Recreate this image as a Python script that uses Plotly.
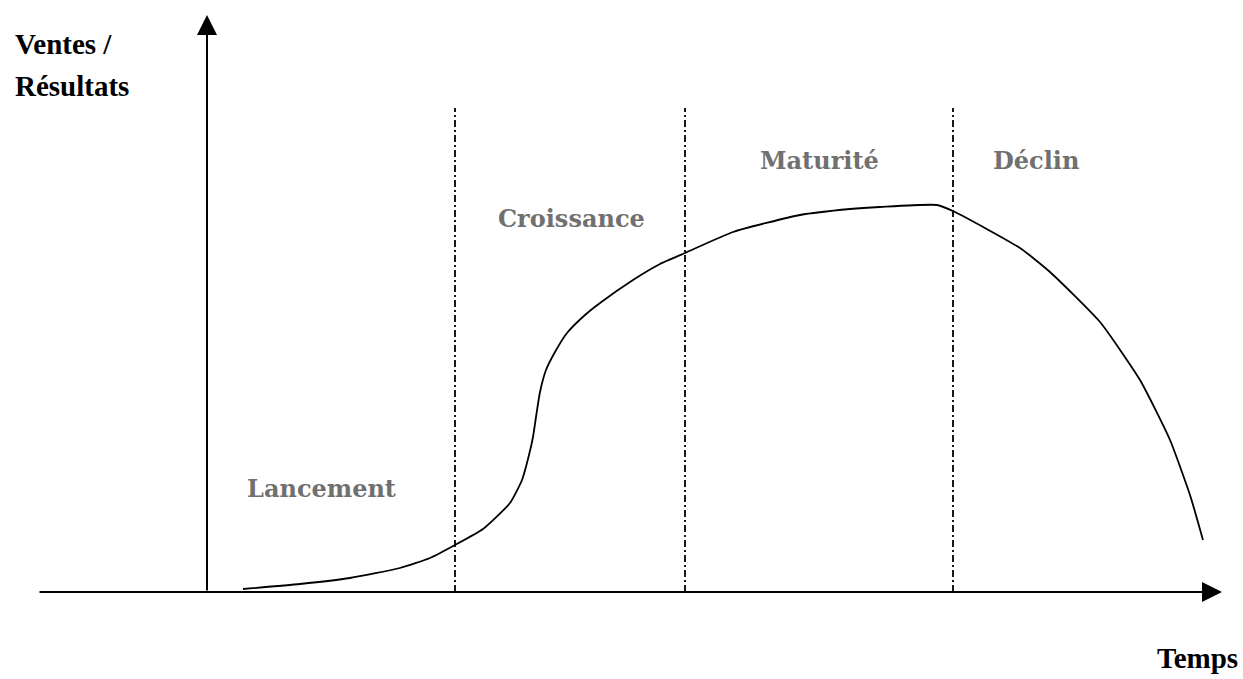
import plotly.graph_objects as go

# Product life cycle curve (time units, sales units)
time = [243, 300, 350, 400, 430, 455, 483, 510, 522, 529, 533, 536, 540, 546, 555, 567, 585,
        600, 633, 660, 685, 733, 800, 850, 880, 937, 955, 1020, 1050, 1100, 1140,
        1170, 1190, 1203]
sales = [3, 8, 14, 24, 34, 47, 63, 89, 112, 137, 155, 175, 200, 222, 240, 259, 277,
         289, 312, 328, 339, 360, 377, 383, 385, 387, 380, 344, 320, 270, 212,
         152, 97, 52]

# Phase boundaries and labels
boundaries = [455, 685, 953]
boundary_top = 484
phase_names = ["Lancement", "Croissance", "Maturité", "Déclin"]
phase_x = [321, 571, 819, 1036]
phase_y = [104, 374, 432, 432]

x_axis_start, x_axis_end = 38, 1222
y_axis_x, y_axis_top = 207, 577

fig = go.Figure()

fig.add_trace(go.Scatter(x=time, y=sales, mode="lines",
                         line=dict(color="black", width=1.8, shape="spline", smoothing=0.5),
                         hoverinfo="skip", showlegend=False))

for b in boundaries:
    fig.add_shape(type="line", x0=b, x1=b, y0=0, y1=boundary_top, xref="x", yref="y",
                  line=dict(color="black", width=1.8, dash="7px,3px,2px,3px"))

# axes with arrows
fig.add_annotation(x=x_axis_end, y=0, ax=x_axis_start, ay=0, xref="x", yref="y",
                   axref="x", ayref="y", text="", showarrow=True, arrowhead=2,
                   arrowsize=2, arrowwidth=2, arrowcolor="black")
fig.add_annotation(x=y_axis_x, y=y_axis_top, ax=y_axis_x, ay=0, xref="x", yref="y",
                   axref="x", ayref="y", text="", showarrow=True, arrowhead=2,
                   arrowsize=2, arrowwidth=2, arrowcolor="black")

for name, px, py in zip(phase_names, phase_x, phase_y):
    fig.add_annotation(x=px, y=py, text="<b>" + name + "</b>", showarrow=False,
                       xref="x", yref="y",
                       font=dict(family="DejaVu Serif", size=24, color="#707070"))

bold_font = dict(family="Liberation Serif", size=29, color="black")
fig.add_annotation(x=13, y=548, text="<b>Ventes /</b>", showarrow=False, xanchor="left",
                   xref="x", yref="y", font=bold_font)
fig.add_annotation(x=13, y=506, text="<b>Résultats</b>", showarrow=False, xanchor="left",
                   xref="x", yref="y", font=bold_font)
fig.add_annotation(x=1240, y=-66, text="<b>Temps</b>", showarrow=False, xanchor="right",
                   xref="x", yref="y", font=bold_font)

fig.update_layout(
    width=1243, height=679,
    margin=dict(l=0, r=0, t=0, b=0),
    paper_bgcolor="white", plot_bgcolor="white",
    xaxis=dict(range=[0, 1243], visible=False, fixedrange=True),
    yaxis=dict(range=[-87, 592], visible=False, fixedrange=True),
    hovermode=False,
)

fig.write_html("out.html", config={"displayModeBar": False, "staticPlot": True},
               post_script="document.body.style.margin='0';document.body.style.overflow='hidden';")
